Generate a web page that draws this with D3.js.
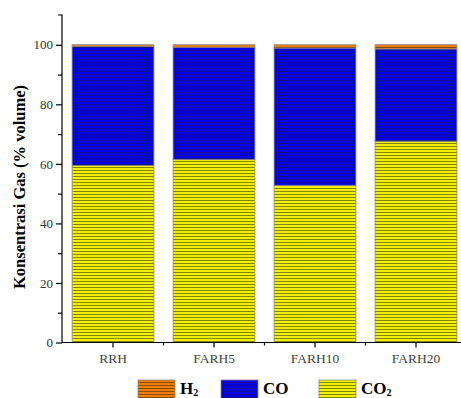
<!DOCTYPE html>
<html>
<head>
<meta charset="utf-8">
<script src="https://cdn.jsdelivr.net/npm/d3@7"></script>
<style>
  body { margin: 0; background: #fff; }
  text { font-family: "Liberation Serif", "Times New Roman", serif; }
</style>
</head>
<body>
<div id="chart"></div>
<script>
  const samples = ['RRH', 'FARH5', 'FARH10', 'FARH20'];
  const co2 = [59.5, 61.5, 52.8, 67.6];
  const h2 = [0.5, 0.8, 1.1, 1.4];
  const co = co2.map((v, i) => 100 - v - h2[i]);
  const gases = ['CO2', 'CO', 'H2'];
  const colors = { H2: '#f07c00', CO: '#0000f0', CO2: '#f0f000' };
  const yTicks = [0, 20, 40, 60, 80, 100];

  const width = 461, height = 398;
  const margin = { top: 15, left: 62, bottom: 55.5 };
  const plotBottom = height - margin.bottom;

  const svg = d3.select('#chart').append('svg').attr('width', width).attr('height', height);

  // hatch patterns: colour fill with thin dark horizontal lines
  const defs = svg.append('defs');
  gases.forEach(g => {
    const p = defs.append('pattern').attr('id', 'hatch-' + g)
      .attr('patternUnits', 'userSpaceOnUse').attr('width', 8).attr('height', 3);
    p.append('rect').attr('width', 8).attr('height', 3).attr('fill', colors[g]);
    p.append('line').attr('x1', 0).attr('x2', 8).attr('y1', 2.5).attr('y2', 2.5)
      .attr('stroke', '#222').attr('stroke-width', 0.7).attr('stroke-opacity', 0.75);
  });

  const y = d3.scaleLinear().domain([0, 110]).range([plotBottom, margin.top]);
  const x = d3.scaleBand().domain(samples).range([margin.left + 0.5, margin.left + 0.5 + 404]).paddingInner(0.19).paddingOuter(0.095);

  const rows = samples.map((s, i) => ({ sample: s, CO2: co2[i], CO: co[i], H2: h2[i] }));
  const stacked = d3.stack().keys(gases)(rows);

  svg.append('g').selectAll('g').data(stacked).join('g')
    .attr('fill', d => `url(#hatch-${d.key})`)
    .selectAll('rect').data(d => d).join('rect')
    .attr('x', d => x(d.data.sample))
    .attr('width', x.bandwidth())
    .attr('y', d => y(d[1]))
    .attr('height', d => y(d[0]) - y(d[1]))
    .attr('stroke', '#888').attr('stroke-width', 0.8);

  // y axis
  const yAxis = svg.append('g').attr('transform', `translate(${margin.left},0)`)
    .call(d3.axisLeft(y).tickValues(yTicks).tickSize(6).tickPadding(3));
  yAxis.select('.domain').attr('d', `M-4,${margin.top}H0V${plotBottom}`).attr('stroke-width', 1.2);
  yAxis.selectAll('.tick line').attr('stroke-width', 1.2);
  yAxis.selectAll('text').attr('font-size', 13).attr('fill', '#333');
  svg.append('g').attr('transform', `translate(${margin.left},0)`)
    .call(d3.axisLeft(y).tickValues(d3.range(10, 110, 20)).tickSize(4).tickFormat(''))
    .call(g => g.select('.domain').remove())
    .selectAll('line').attr('stroke-width', 1.2);

  // x axis
  const xAxis = svg.append('g').attr('transform', `translate(0,${plotBottom})`)
    .call(d3.axisBottom(x).tickSize(5).tickPadding(6));
  xAxis.select('.domain').attr('d', `M${margin.left},0H${width}`).attr('stroke-width', 1.2);
  xAxis.selectAll('.tick line').attr('stroke-width', 1.2);
  xAxis.selectAll('text').attr('font-size', 13.5).attr('fill', '#444');
  // small ticks between groups
  svg.append('g').selectAll('line').data(samples.slice(1)).join('line')
    .attr('x1', d => x(d) - x.step() * x.paddingInner() / 2)
    .attr('x2', d => x(d) - x.step() * x.paddingInner() / 2)
    .attr('y1', plotBottom).attr('y2', plotBottom + 3)
    .attr('stroke', '#000').attr('stroke-width', 1.2);

  svg.append('text')
    .attr('transform', 'translate(25,187) rotate(-90)')
    .attr('text-anchor', 'middle').attr('font-size', 16.5).attr('font-weight', 'bold')
    .text('Konsentrasi Gas (% volume)');

  // legend
  const legendX = [138, 221, 319];
  const legendLabels = [['H', '2'], ['CO', ''], ['CO', '2']];
  const legendKeys = ['H2', 'CO', 'CO2'];
  const leg = svg.append('g').selectAll('g').data(legendKeys).join('g')
    .attr('transform', (d, i) => `translate(${legendX[i]},380)`);
  leg.append('rect').attr('width', 37).attr('height', 22)
    .attr('fill', d => `url(#hatch-${d})`).attr('stroke', '#888').attr('stroke-width', 0.8);
  const lt = leg.append('text').attr('x', 42).attr('y', 14)
    .attr('font-size', 17).attr('font-weight', 'bold');
  lt.append('tspan').text((d, i) => legendLabels[i][0]);
  lt.append('tspan').attr('font-size', 10).attr('dy', 2).text((d, i) => legendLabels[i][1]);
</script>
</body>
</html>
